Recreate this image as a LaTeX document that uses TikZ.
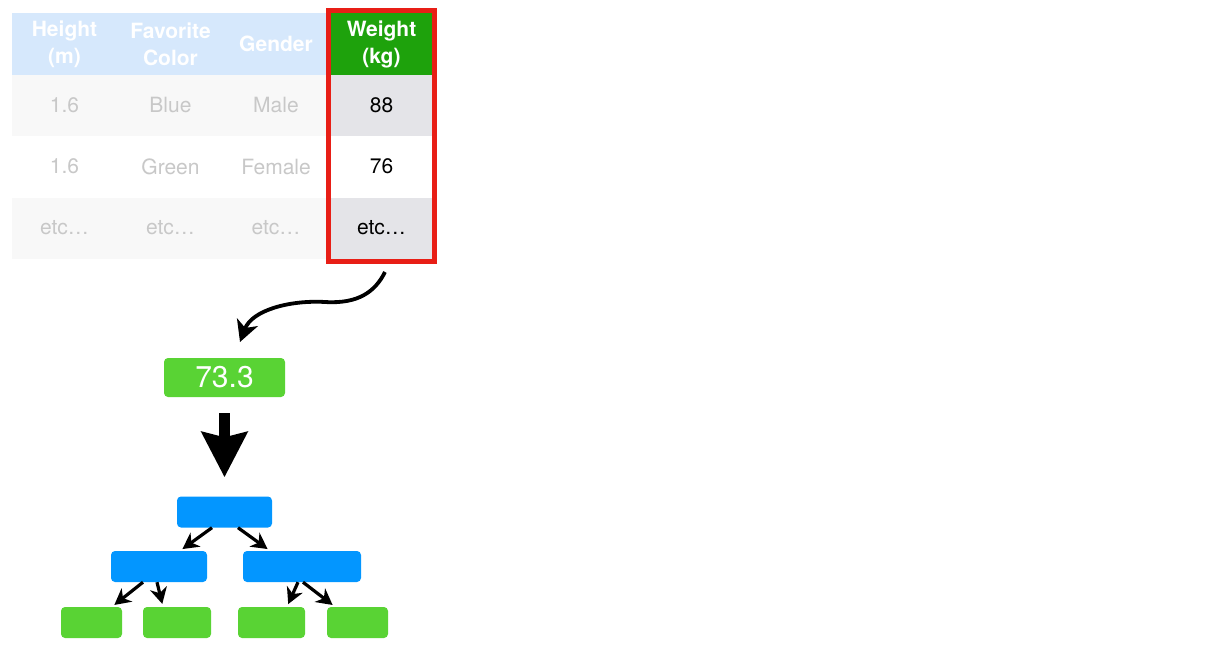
\documentclass[tikz,border=0pt]{standalone}
\usepackage{fontspec}
\setmainfont{TeX Gyre Heros}
\usetikzlibrary{arrows.meta,fit}
\definecolor{hdrblue}{RGB}{214,232,252}
\definecolor{wgreen}{RGB}{30,162,12}
\definecolor{boxred}{RGB}{232,30,22}
\definecolor{wgray}{RGB}{228,228,232}
\definecolor{fadetext}{RGB}{200,200,200}
\definecolor{fadebg}{RGB}{248,248,248}
\definecolor{leafgreen}{RGB}{89,211,52}
\definecolor{splitblue}{RGB}{3,150,255}

\begin{document}
\begin{tikzpicture}[x=1pt,y=-1pt,>=Stealth,
  cell/.style={minimum height=61pt,inner sep=0pt,font=\fontsize{21}{26}\selectfont},
  hdr/.style={cell,minimum height=62pt,fill=hdrblue,text=white,align=center,
    font=\fontsize{21}{27}\selectfont\bfseries},
  faded/.style={cell,text=fadetext},
  split/.style={rounded corners=4pt,fill=splitblue,minimum height=31pt,inner sep=0pt},
  leaf/.style={rounded corners=4pt,fill=leafgreen,minimum height=31pt,inner sep=0pt},
  branch/.style={line width=3.2pt,-{Stealth[length=16pt,width=17pt,inset=5pt]},shorten >=3pt}]
  \useasboundingbox (0,0) rectangle (1211,651);
  %
  % Table header
  \node[hdr,minimum width=105pt] (hheight) at (64.5,44) {Height\\(m)};
  \node[hdr,minimum width=107pt] (hcolor) at (170.5,44) {Favorite\\Color};
  \node[hdr,minimum width=104pt] (hgender) at (276,44) {Gender};
  \node[hdr,fill=wgreen,minimum width=101pt] (hweight) at (381.5,44) {Weight\\(kg)};
  %
  % Table rows
  \foreach \y/\bg/\wbg/\a/\b/\c/\d [count=\r] in
    {105.5/fadebg/wgray/1.6/Blue/Male/88,
     166.5/white/white/1.6/Green/Female/76,
     228/fadebg/wgray/etc…/etc…/etc…/etc…} {
    \node[faded,fill=\bg,minimum width=105pt] (height\r) at (64.5,\y) {\a};
    \node[faded,fill=\bg,minimum width=107pt] (color\r) at (170.5,\y) {\b};
    \node[faded,fill=\bg,minimum width=104pt] (gender\r) at (276,\y) {\c};
    \node[cell,fill=\wbg,minimum width=101pt] (weight\r) at (381.5,\y) {\d};
  }
  %
  % Selected column
  \node[fit=(hweight)(weight3),draw=boxred,line width=5pt,inner sep=2.5pt] (wbox) {};
  %
  % Curved arrow to the average
  \coordinate (cstart) at (385,272);
  \coordinate (cend) at (240,342);
  \draw[line width=3.8pt,-{Stealth[length=21pt,width=22pt,inset=6pt]}]
    (cstart) .. controls (375,292) and (358,304) .. (325,302)
    .. controls (290,300) and (252,310) .. (cend);
  %
  % Average
  \node[leaf,minimum width=121pt,minimum height=39pt,text=white,
    font=\fontsize{30}{32}\selectfont] (avg) at (224.5,377.5) {73.3};
  %
  % Tree
  \node[split,minimum width=95pt] (root) at (224.5,512) {};
  \node[split,minimum width=96pt] (lsplit) at (159,566.5) {};
  \node[split,minimum width=118pt] (rsplit) at (302,566.5) {};
  \node[leaf,minimum width=61pt] (leafa) at (91.5,622.5) {};
  \node[leaf,minimum width=68pt] (leafb) at (177,622.5) {};
  \node[leaf,minimum width=67pt] (leafc) at (271.5,622.5) {};
  \node[leaf,minimum width=61pt] (leafd) at (357.5,622.5) {};
  %
  % Arrows
  \draw[line width=11pt,-{Stealth[length=45pt,width=45pt,inset=5pt]},
    shorten <=16pt,shorten >=19pt] (avg) -- (root);
  \draw[branch] ([xshift=-12.5pt]root.south) -- ([xshift=21pt]lsplit.north);
  \draw[branch] ([xshift=13.5pt]root.south) -- ([xshift=-32pt]rsplit.north);
  \draw[branch] ([xshift=-16pt]lsplit.south) -- ([xshift=20.5pt]leafa.north);
  \draw[branch] ([xshift=-2pt]lsplit.south) -- ([xshift=-14pt]leafb.north);
  \draw[branch] ([xshift=-4pt]rsplit.south) -- ([xshift=15.5pt]leafc.north);
  \draw[branch] ([xshift=1pt]rsplit.south) -- ([xshift=-22.5pt]leafd.north);
  %
\end{tikzpicture}
\end{document}
